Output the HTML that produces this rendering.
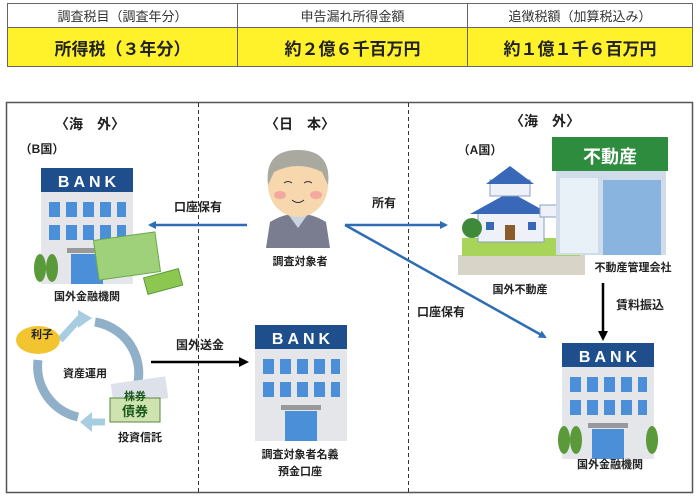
<!DOCTYPE html>
<html><head><meta charset="utf-8"><style>
html,body{margin:0;padding:0;background:#fff;width:700px;height:496px;overflow:hidden}
body{position:relative;font-family:"Liberation Sans","Noto Sans CJK JP",sans-serif;color:#222}
.t{position:absolute;white-space:nowrap;transform:translateX(-50%);font-weight:bold;font-size:11px;line-height:1}
table{position:absolute;left:7px;top:3px;width:686px;border-collapse:collapse}
td{border:1px solid #666;text-align:center;padding:0}
.h td{height:23px;font-size:13px;color:#333}
.y td{height:38px;background:#fff22a;font-size:17px;font-weight:bold;color:#222}
</style></head><body>
<table>
<tr class="h"><td style="width:229px">調査税目（調査年分）</td><td style="width:229px">申告漏れ所得金額</td><td>追徴税額（加算税込み）</td></tr>
<tr class="y"><td>所得税（３年分）</td><td>約２億６千百万円</td><td>約１億１千６百万円</td></tr>
</table>
<svg width="700" height="496" style="position:absolute;left:0;top:0">
<defs>
<marker id="ab" markerWidth="8" markerHeight="8" refX="6" refY="4" orient="auto" markerUnits="userSpaceOnUse"><path d="M0,0 L8,4 L0,8z" fill="#2e6db4"/></marker>
<marker id="ak" markerWidth="10" markerHeight="10" refX="7" refY="5" orient="auto" markerUnits="userSpaceOnUse"><path d="M0,0 L10,5 L0,10z" fill="#000"/></marker>
<g id="bank">
<rect x="0" y="24" width="92" height="92" fill="#e4e6ea"/>
<rect x="0" y="0" width="92" height="24" fill="#1f4e8c"/>
<g fill="#4a8fd8"><rect x="8" y="34" width="11" height="15"/><rect x="25" y="34" width="11" height="15"/><rect x="42" y="34" width="11" height="15"/><rect x="59" y="34" width="11" height="15"/><rect x="76" y="34" width="9" height="15"/>
<rect x="8" y="57" width="11" height="15"/><rect x="25" y="57" width="11" height="15"/><rect x="42" y="57" width="11" height="15"/><rect x="59" y="57" width="11" height="15"/><rect x="76" y="57" width="9" height="15"/>
<rect x="30" y="86" width="32" height="30"/></g>
<rect x="26" y="80" width="40" height="5" fill="#999"/>
</g>
</defs>
<rect x="6.5" y="102.5" width="686" height="390" fill="none" stroke="#555" stroke-width="1.5"/>
<line x1="198.5" y1="103" x2="198.5" y2="492" stroke="#333" stroke-dasharray="4,3"/>
<line x1="408.5" y1="103" x2="408.5" y2="492" stroke="#333" stroke-dasharray="4,3"/>
<!-- left bank -->
<use href="#bank" x="41" y="168"/>
<ellipse cx="40" cy="268" rx="6" ry="14" fill="#5a9a3a"/><ellipse cx="52" cy="268" rx="6" ry="14" fill="#5a9a3a"/>
<rect x="96" y="236" width="62" height="40" fill="#9fd07a" stroke="#6aa84a" transform="rotate(-8 127 256)"/>
<rect x="145" y="273" width="36" height="17" fill="#8cc850" stroke="#5a9a3a" transform="rotate(-15 163 281)"/>
<!-- cycle -->
<path d="M95,322 A52,52 0 0 1 128,405" fill="none" stroke="#8fb0c8" stroke-width="9"/>
<path d="M78,417 A52,52 0 0 1 38,360" fill="none" stroke="#8fb0c8" stroke-width="9"/>
<path d="M60,340 L80,318" stroke="#a8cce0" stroke-width="7"/><path d="M78,310 L92,318 L78,328z" fill="#a8cce0"/>
<path d="M105,422 L90,422" stroke="#a8cce0" stroke-width="7"/><path d="M92,412 L80,422 L92,432z" fill="#a8cce0"/>
<ellipse cx="38" cy="340" rx="22" ry="14" fill="#f2c530"/>
<rect x="112" y="380" width="55" height="22" fill="#dde2ea" transform="rotate(-8 140 391)"/>
<rect x="110" y="398" width="50" height="24" fill="#cfe3b0" stroke="#5a8a3a"/>
<!-- center bank -->
<use href="#bank" x="255" y="325"/>
<!-- person -->
<path d="M266,248 L270,222 Q298,205 326,222 L330,248z" fill="#7a7d90"/>
<path d="M288,214 L298,228 L308,214z" fill="#c8d4e0"/>
<ellipse cx="298" cy="185" rx="30" ry="32" fill="#f6d7ae"/>
<path d="M268,185 Q264,150 298,150 Q332,150 328,185 L322,172 Q298,160 274,172z" fill="#a9a9a0"/>
<ellipse cx="280" cy="195" rx="6" ry="4" fill="#f5a8a0"/><ellipse cx="316" cy="195" rx="6" ry="4" fill="#f5a8a0"/>
<path d="M284,183 q4,-3 8,0 M304,183 q4,-3 8,0 M292,200 q6,5 12,0" stroke="#333" fill="none"/>
<!-- house -->
<rect x="458" y="255" width="127" height="20" fill="#d8d4c8"/>
<rect x="462" y="238" width="118" height="18" fill="#a9d45a"/>
<rect x="478" y="212" width="66" height="30" fill="#eef2f8" stroke="#8aa0c0"/>
<g fill="#3a68b8"><rect x="486" y="222" width="8" height="8"/><rect x="528" y="222" width="8" height="8"/></g>
<rect x="505" y="225" width="10" height="15" fill="#8a5a2a"/>
<path d="M470,214 L510,192 L550,214z" fill="#3a68b8"/>
<rect x="490" y="180" width="40" height="16" fill="#eef2f8" stroke="#8aa0c0"/>
<path d="M486,184 L510,166 L534,184z" fill="#3a68b8"/>
<rect x="540" y="205" width="20" height="12" fill="#eef2f8" stroke="#8aa0c0"/>
<circle cx="472" cy="228" r="10" fill="#3f8a3a"/><circle cx="572" cy="230" r="10" fill="#3f8a3a"/>
<!-- real estate office -->
<rect x="556" y="170" width="110" height="85" fill="#d0dcea"/>
<rect x="552" y="137" width="116" height="34" fill="#2d8c3e"/>
<rect x="603" y="180" width="58" height="75" fill="#8ab4e0"/>
<rect x="560" y="178" width="38" height="75" fill="#e8f0f8"/>
<!-- right bank -->
<use href="#bank" x="562" y="343"/>
<ellipse cx="564" cy="440" rx="6" ry="14" fill="#5a9a3a"/><ellipse cx="576" cy="440" rx="6" ry="14" fill="#5a9a3a"/><ellipse cx="652" cy="440" rx="6" ry="14" fill="#5a9a3a"/>
<!-- arrows -->
<line x1="247" y1="225" x2="150" y2="225" stroke="#2e6db4" stroke-width="2.5" marker-end="url(#ab)"/>
<line x1="345" y1="225" x2="446" y2="225" stroke="#2e6db4" stroke-width="2.5" marker-end="url(#ab)"/>
<line x1="345" y1="225" x2="545" y2="337" stroke="#2e6db4" stroke-width="2.5" marker-end="url(#ab)"/>
<line x1="151" y1="362" x2="246" y2="362" stroke="#000" stroke-width="2.5" marker-end="url(#ak)"/>
<line x1="603" y1="283" x2="603" y2="338" stroke="#000" stroke-width="2.5" marker-end="url(#ak)"/>
<!-- bank texts -->
<g font-family="Liberation Sans, sans-serif" font-weight="bold" font-size="16" fill="#fff" text-anchor="middle" letter-spacing="4">
<text x="89" y="187">BANK</text><text x="303" y="344">BANK</text><text x="610" y="362">BANK</text></g>
<text x="610" y="163" font-family="Liberation Sans, Noto Sans CJK JP, sans-serif" font-weight="bold" font-size="18" fill="#fff" text-anchor="middle">不動産</text>
<g font-family="Liberation Sans, Noto Sans CJK JP, sans-serif" font-weight="bold" font-size="11" fill="#1a5a1a" text-anchor="middle"><text x="135" y="400">株券</text><text x="135" y="416" font-size="13">債券</text></g>
</svg>
<div class="t" style="left:90px;top:117px;font-size:14px">〈海　外〉</div>
<div class="t" style="left:300px;top:117px;font-size:14px">〈日　本〉</div>
<div class="t" style="left:545px;top:114px;font-size:14px">〈海　外〉</div>
<div class="t" style="left:42px;top:143px;font-size:12px">（B国）</div>
<div class="t" style="left:480px;top:144px;font-size:12px">（A国）</div>
<div class="t" style="left:198px;top:201px;font-size:12px">口座保有</div>
<div class="t" style="left:300px;top:257px">調査対象者</div>
<div class="t" style="left:384px;top:197px;font-size:12px">所有</div>
<div class="t" style="left:441px;top:306px;font-size:12px">口座保有</div>
<div class="t" style="left:633px;top:263px">不動産管理会社</div>
<div class="t" style="left:520px;top:285px">国外不動産</div>
<div class="t" style="left:640px;top:299px;font-size:12px">賃料振込</div>
<div class="t" style="left:610px;top:460px">国外金融機関</div>
<div class="t" style="left:87px;top:292px">国外金融機関</div>
<div class="t" style="left:42px;top:330px">利子</div>
<div class="t" style="left:85px;top:369px">資産運用</div>
<div class="t" style="left:140px;top:433px">投資信託</div>
<div class="t" style="left:200px;top:339px;font-size:12px">国外送金</div>
<div class="t" style="left:300px;top:450px">調査対象者名義</div>
<div class="t" style="left:300px;top:467px">預金口座</div>
</body></html>
